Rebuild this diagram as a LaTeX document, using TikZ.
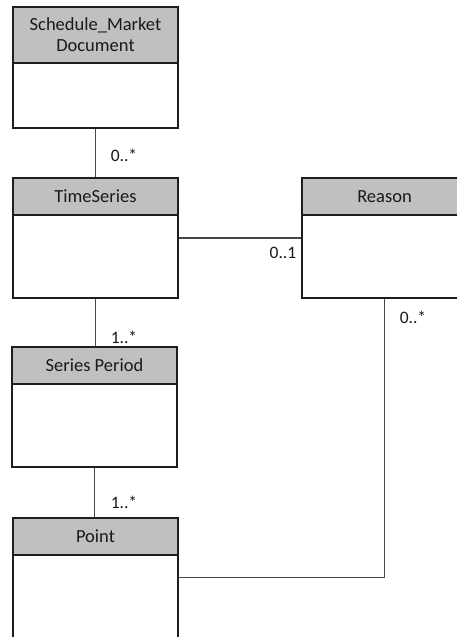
\documentclass[tikz,border=0pt]{standalone}
\usepackage{fontspec}
\setmainfont{Carlito}
\definecolor{hdr}{RGB}{192,192,192}
\definecolor{edge}{RGB}{30,30,30}
\definecolor{conn}{RGB}{70,70,70}
\begin{document}
\begin{tikzpicture}[x=1pt,y=-1pt,
  hdrbox/.style={draw=edge,line width=1.3pt,fill=hdr,minimum width=165pt,inner sep=0pt,
    font=\fontsize{18.5}{21}\selectfont,align=center,text=black!90},
  bodybox/.style={draw=edge,line width=1.3pt,fill=white,minimum width=165pt,inner sep=0pt},
  link/.style={draw=conn,line width=1.2pt},
  mult/.style={font=\fontsize{17.5}{20}\selectfont,text=black!90,inner sep=0pt}]
\clip (0,0) rectangle (457,637);
\fill[white] (0,0) rectangle (457,637);
% Schedule_Market Document
\node[bodybox,minimum height=65pt] (smb) at (95.5,95.5) {};
\node[hdrbox,minimum height=56pt] (smh) at (95.5,35) {Schedule\_Market\\Document};
% TimeSeries
\node[bodybox,minimum height=83pt] (tsb) at (95.5,256.5) {};
\node[hdrbox,minimum height=37pt] (tsh) at (95.5,196.5) {TimeSeries};
% Reason
\node[bodybox,minimum height=83pt] (rb) at (384.5,256.5) {};
\node[hdrbox,minimum height=37pt] (rh) at (384.5,196.5) {Reason};
% Series Period
\node[bodybox,minimum height=83pt] (spb) at (94.5,425.5) {};
\node[hdrbox,minimum height=37pt] (sph) at (94.5,365.5) {Series Period};
% Point
\node[bodybox,minimum height=105pt] (pb) at (95.5,607.5) {};
\node[hdrbox,minimum height=37pt] (ph) at (95.5,536.5) {Point};
% connectors
\draw[link] (smb.south) -- (tsh.north);
\draw[link] ([yshift=18.5pt]tsb.east) -- ([yshift=18.5pt]rb.west);
\draw[link] (tsb.south) -- (tsb.south |- sph.north);
\draw[link] (spb.south) -- (spb.south |- ph.north);
\draw[link] ([yshift=-23pt]pb.north east) -| (rb.south);
% multiplicities
\node[mult] (m1) at (124,155) {0..*};
\node[mult] (m2) at (283,253) {0..1};
\node[mult] (m3) at (124,337) {1..*};
\node[mult] (m4) at (124,502) {1..*};
\node[mult] (m5) at (413,317) {0..*};
\end{tikzpicture}
\end{document}
